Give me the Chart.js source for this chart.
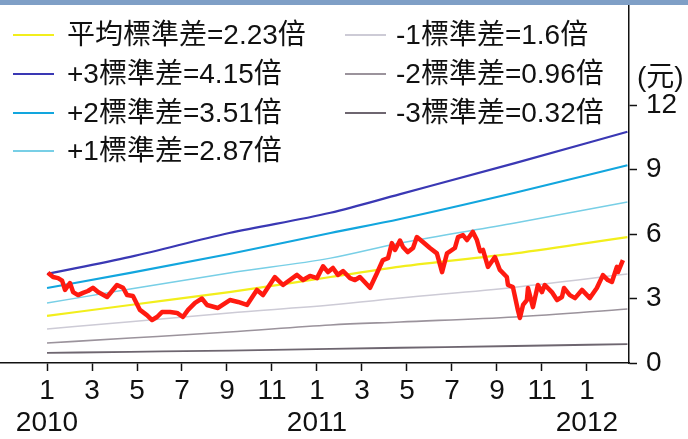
<!DOCTYPE html>
<html>
<head>
<meta charset="utf-8">
<script src="https://cdn.jsdelivr.net/npm/chart.js@4.4.1/dist/chart.umd.min.js"></script>
<style>
  html, body { margin: 0; padding: 0; background: #fff; }
  #wrap { position: relative; width: 688px; height: 439px; overflow: hidden; }
  #topbar { position: absolute; left: 0; top: 0; width: 688px; height: 5px; background: #7f9fc6; }
  canvas { position: absolute; left: 0; top: 0; }
  .item { position: absolute; height: 38px; line-height: 38px; white-space: nowrap;
          font-size: 28px; color: #111; font-family: "Liberation Sans", "Noto Sans CJK TC", sans-serif; }
  .swatch { position: absolute; top: 18px; width: 41px; height: 2px; }
  #unit { position: absolute; left: 637px; top: 54px; font-size: 28px; color: #111;
          font-family: "Liberation Sans", "Noto Sans CJK TC", sans-serif; }
</style>
</head>
<body>
<div id="wrap">
  <canvas id="chart" width="688" height="439"></canvas>
  <div id="topbar"></div>
  <div id="unit">(元)</div>
  <div id="legend"></div>
</div>
<script>
// months counted from Jan 2010 (0 = Jan 2010)
const priceMonths = [0.04, 0.27, 0.49, 0.67, 0.8, 1.02, 1.16, 1.38, 1.6, 1.82, 2.04, 2.27, 2.67, 3.11, 3.38, 3.56, 3.82,
  4.13, 4.44, 4.67, 4.89, 5.11, 5.47, 5.78, 6.04, 6.27, 6.58, 6.89, 7.11, 7.6, 8.13, 8.49, 8.89, 9.33, 9.6, 10.13,
  10.49, 11.11, 11.38, 11.69, 12.0, 12.27, 12.49, 12.71, 12.93, 13.16, 13.47, 13.69, 13.91, 14.36, 14.67, 14.93,
  15.16, 15.33, 15.47, 15.69, 15.82, 16.04, 16.27, 16.44, 16.71, 17.02, 17.33, 17.56, 17.78, 18.13, 18.27, 18.49,
  18.67, 18.93, 19.11, 19.25, 19.38, 19.6, 19.91, 20.13, 20.44, 20.49, 20.71, 20.93, 21.02, 21.16, 21.33, 21.38,
  21.6, 21.82, 22.0, 22.13, 22.44, 22.67, 22.89, 22.98, 23.24, 23.47, 23.78, 24.13, 24.44, 24.71, 24.93, 25.11,
  25.33, 25.38, 25.6];
const priceValues = [4.2, 4.0, 3.95, 3.83, 3.4, 3.72, 3.3, 3.16, 3.26, 3.35, 3.5, 3.3, 3.07, 3.63, 3.5, 3.16, 3.12,
  2.47, 2.23, 2.0, 2.14, 2.37, 2.37, 2.33, 2.14, 2.47, 2.8, 3.0, 2.7, 2.56, 2.93, 2.84, 2.7, 3.4, 3.16, 4.0,
  3.63, 4.1, 3.86, 4.05, 3.95, 4.5, 4.23, 4.42, 4.1, 4.28, 3.95, 3.86, 4.0, 3.5, 4.19, 4.79,
  4.88, 5.58, 5.26, 5.7, 5.4, 5.16, 5.35, 5.86, 5.63, 5.35, 5.1, 4.23, 5.1, 5.35, 5.86, 5.95,
  5.72, 6.1, 5.72, 5.2, 5.26, 4.47, 4.93, 4.33, 4.0, 3.63, 3.53, 2.47, 2.09, 2.7, 2.93, 3.49,
  2.6, 3.63, 3.3, 3.63, 3.3, 2.93, 3.07, 3.49, 3.16, 3.02, 3.4, 3.02, 3.49, 4.09, 3.86, 3.77,
  4.47, 4.23, 4.79];

const bandMonths = [0, 3.7, 8.1, 12.6, 15.7, 20.8, 25.8];
const bandMean   = [2.19, 2.70, 3.30, 4.00, 4.48, 5.10, 5.86];
const bandPlus3  = [4.14, 4.94, 6.05, 6.99, 7.86, 9.30, 10.76];
const bandPlus2  = [3.49, 4.19, 5.07, 6.05, 6.70, 7.92, 9.20];
const bandPlus1  = [2.79, 3.44, 4.19, 4.88, 5.58, 6.51, 7.49];
const bandMinus1 = [1.58, 1.92, 2.33, 2.70, 3.02, 3.53, 4.14];
const bandMinus2 = [0.93, 1.16, 1.44, 1.77, 1.91, 2.14, 2.51];
const bandMinus3 = [0.47, 0.52, 0.58, 0.66, 0.71, 0.79, 0.88];

const bandLabels = ['平均標準差=2.23倍', '+3標準差=4.15倍', '+2標準差=3.51倍', '+1標準差=2.87倍',
  '-1標準差=1.6倍', '-2標準差=0.96倍', '-3標準差=0.32倍'];

const xTickValues = [0, 2, 4, 6, 8, 10, 12, 14, 16, 18, 20, 22, 24];
const monthLabels = ['1', '3', '5', '7', '9', '11', '1', '3', '5', '7', '9', '11', '1'];
const yearLabels  = ['2010', '', '', '', '', '', '2011', '', '', '', '', '', '2012'];
const yTickValues = [0, 3, 6, 9, 12];

const toPoints = (xs, ys) => xs.map((x, i) => ({ x: x, y: ys[i] }));

const bandStyles = [
  { data: bandMean,   color: '#f2ee1c', width: 2.2 },
  { data: bandPlus3,  color: '#3a38b4', width: 2.2 },
  { data: bandPlus2,  color: '#12a6de', width: 2.2 },
  { data: bandPlus1,  color: '#78cfe6', width: 1.5 },
  { data: bandMinus1, color: '#cdcbd6', width: 1.5 },
  { data: bandMinus2, color: '#9b939c', width: 1.6 },
  { data: bandMinus3, color: '#6e6670', width: 1.8 },
];

const datasets = [{
  label: 'price',
  data: toPoints(priceMonths, priceValues),
  borderColor: '#ff1a10',
  borderWidth: 4.5,
  pointRadius: 0,
  tension: 0,
  borderJoinStyle: 'round',
  order: 0,
}];
bandStyles.forEach((b, i) => {
  datasets.push({
    label: bandLabels[i],
    data: toPoints(bandMonths, b.data),
    borderColor: b.color,
    borderWidth: b.width,
    pointRadius: 0,
    cubicInterpolationMode: 'monotone',
    order: 1,
  });
});

const tickFont = { family: '"Liberation Sans", Arial, sans-serif', size: 28, lineHeight: 1.12 };

new Chart(document.getElementById('chart'), {
  type: 'line',
  data: { datasets: datasets },
  options: {
    responsive: false,
    animation: false,
    devicePixelRatio: 1,
    layout: { padding: { top: 3, left: 0, right: 0, bottom: 0 } },
    plugins: { legend: { display: false }, tooltip: { enabled: false } },
    scales: {
      x: {
        type: 'linear',
        min: -2.09,
        max: 25.87,
        afterBuildTicks: (scale) => { scale.ticks = xTickValues.map(v => ({ value: v })); },
        afterFit: (scale) => { scale.height = 76; scale.paddingLeft = 0; scale.paddingRight = 0; },
        grid: { drawOnChartArea: false, tickLength: 8, tickColor: '#111', tickWidth: 1.5 },
        border: { display: true, color: '#111', width: 1.5 },
        ticks: {
          autoSkip: false,
          maxRotation: 0,
          padding: 5,
          color: '#111',
          font: tickFont,
          callback: function (value, index) {
            return yearLabels[index] ? [monthLabels[index], yearLabels[index]] : monthLabels[index];
          }
        }
      },
      y: {
        position: 'right',
        min: 0,
        max: 16.75,
        afterBuildTicks: (scale) => { scale.ticks = yTickValues.map(v => ({ value: v })); },
        afterFit: (scale) => { scale.width = 59; scale.paddingTop = 0; scale.paddingBottom = 0; },
        grid: { drawOnChartArea: false, tickLength: 8, tickColor: '#111', tickWidth: 1.5 },
        border: { display: true, color: '#111', width: 1.5 },
        ticks: { padding: 9, color: '#111', font: tickFont }
      }
    }
  }
});

// two-column legend drawn over the plot, like the printed chart
const legendEl = document.getElementById('legend');
bandStyles.forEach((b, i) => {
  const col = i < 4 ? 0 : 1;
  const row = i < 4 ? i : i - 4;
  const item = document.createElement('div');
  item.className = 'item';
  item.style.left = (col === 0 ? 13 : 345) + 'px';
  item.style.top = (16 + row * 38.8) + 'px';
  item.style.paddingLeft = (col === 0 ? 54 : 51) + 'px';
  const sw = document.createElement('span');
  sw.className = 'swatch';
  sw.style.left = '0px';
  sw.style.background = b.color;
  item.appendChild(sw);
  item.appendChild(document.createTextNode(bandLabels[i]));
  legendEl.appendChild(item);
});
</script>
</body>
</html>
